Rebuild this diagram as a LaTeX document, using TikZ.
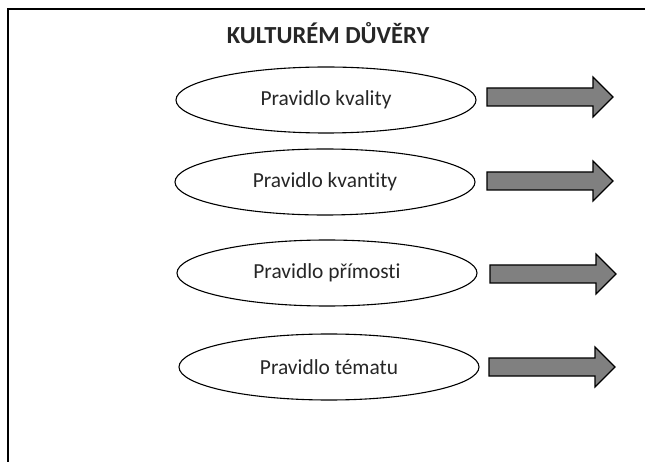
\documentclass[tikz,border=0pt]{standalone}
\usepackage{fontspec}
\setmainfont{Carlito}[Ligatures=NoCommon]
\usetikzlibrary{shapes.geometric}

\tikzset{
    pravidlo/.style={draw, line width=1.1pt, ellipse, minimum width=300bp, minimum height=66bp,
        inner sep=0pt, font=\fontsize{21.5}{25}\selectfont, text=black!85},
    sipka/.style={draw=black, line width=1.2pt, fill=black!50, line join=miter}
}

\begin{document}
\begin{tikzpicture}[x=1bp,y=-1bp]
    \useasboundingbox (0,0) rectangle (645,462);
    \clip (0,0) rectangle (645,462);

    % Frame
    \draw[line width=1.6pt] (8,480) -- (8,9) -- (660,9);

    % Title
    \node[font=\fontsize{24.6}{28}\selectfont\bfseries, text=black!85] (nadpis) at (328,33) {KULTURÉM DŮVĚRY};

    % Ellipses
    \node[pravidlo] (kvalita) at (326,100) {Pravidlo kvality};
    \node[pravidlo] (kvantita) at (325,182) {Pravidlo kvantity};
    \node[pravidlo] (primost) at (327,273) {Pravidlo přímosti};
    \node[pravidlo] (tema) at (329,367) {Pravidlo tématu};

    % Arrows
    \foreach \x/\y in {487/97, 487/181, 490/274, 489/367}
        \draw[sipka] (\x,\y-9) -- (\x+106,\y-9) -- (\x+106,\y-20) -- (\x+126,\y)
            -- (\x+106,\y+20) -- (\x+106,\y+9) -- (\x,\y+9) -- cycle;
\end{tikzpicture}
\end{document}
